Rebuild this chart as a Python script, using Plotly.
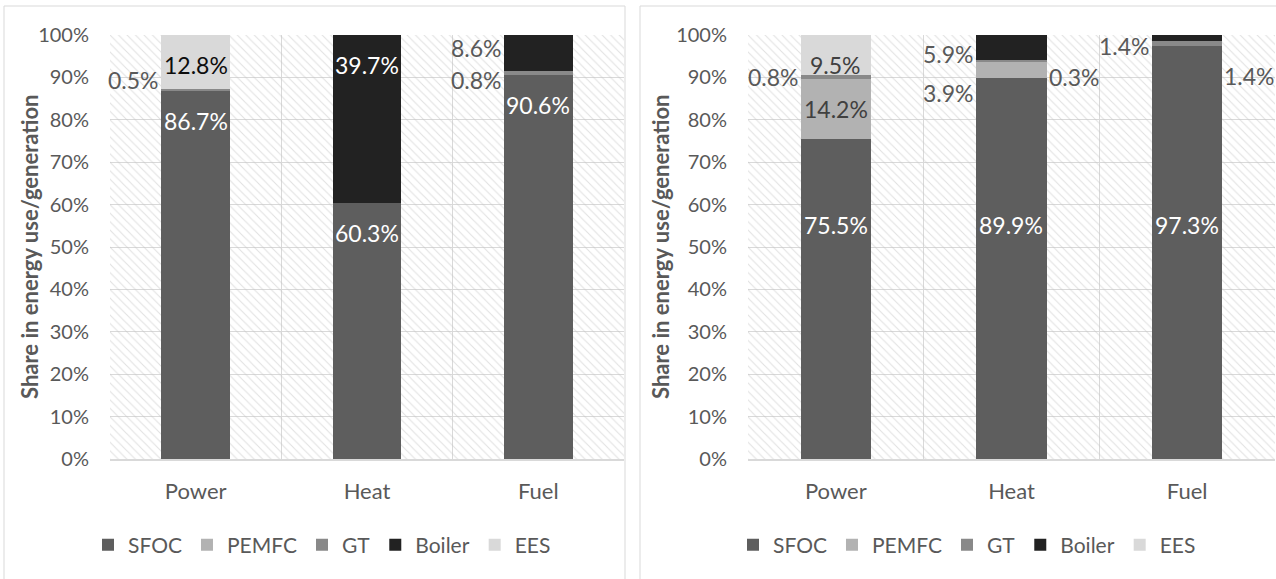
import plotly.graph_objects as go

# ---------------- data ----------------
categories = ["Power", "Heat", "Fuel"]
series = ["SFOC", "PEMFC", "GT", "Boiler", "EES"]

left_sfoc = [86.7, 60.3, 90.6]
left_pemfc = [0.0, 0.0, 0.0]
left_gt = [0.5, 0.0, 0.8]
left_boiler = [0.0, 39.7, 8.6]
left_ees = [12.8, 0.0, 0.0]

right_sfoc = [75.5, 89.9, 97.3]
right_pemfc = [14.2, 3.9, 0.0]
right_gt = [0.8, 0.3, 1.4]
right_boiler = [0.0, 5.9, 1.4]
right_ees = [9.5, 0.0, 0.0]

y_tick_vals = [0, 10, 20, 30, 40, 50, 60, 70, 80, 90, 100]
y_tick_text = ["0%", "10%", "20%", "30%", "40%", "50%", "60%", "70%", "80%", "90%", "100%"]
y_title = "Share in energy use/generation"

# ---------------- style ----------------
W, H = 1276, 579
FONT = "Lato"
GREY_TXT = "#595959"
GRID = "#d9d9d9"
series_colors = {"SFOC": "#5e5e5e", "PEMFC": "#b2b2b2", "GT": "#898989",
                 "Boiler": "#222222", "EES": "#d9d9d9"}
BAR_FRAC = 0.4

# label placement: (mode, color, yshift px)
left_label_style = {
    ("SFOC", "Power"): ("end", "#ffffff", 0),
    ("GT", "Power"): ("left", GREY_TXT, 10),
    ("EES", "Power"): ("end", "#0d0d0d", 0),
    ("SFOC", "Heat"): ("end", "#ffffff", 0),
    ("Boiler", "Heat"): ("end", "#ffffff", 0),
    ("SFOC", "Fuel"): ("end", "#ffffff", 0),
    ("GT", "Fuel"): ("left", GREY_TXT, -7),
    ("Boiler", "Fuel"): ("left", GREY_TXT, 5),
}
right_label_style = {
    ("SFOC", "Power"): ("level", "#ffffff", 0),
    ("PEMFC", "Power"): ("center", "#404040", 0),
    ("GT", "Power"): ("left", GREY_TXT, 0),
    ("EES", "Power"): ("end", "#404040", 0),
    ("SFOC", "Heat"): ("level", "#ffffff", 0),
    ("PEMFC", "Heat"): ("left", GREY_TXT, -23),
    ("GT", "Heat"): ("right", GREY_TXT, -16),
    ("Boiler", "Heat"): ("left", GREY_TXT, -6),
    ("SFOC", "Fuel"): ("level", "#ffffff", 0),
    ("GT", "Fuel"): ("right", GREY_TXT, -33),
    ("Boiler", "Fuel"): ("left", GREY_TXT, -8),
}
LEVEL_Y = 55.3
END_SHIFT = -30

# panel geometry in px
panels = [
    dict(name="left", data=[left_sfoc, left_pemfc, left_gt, left_boiler, left_ees],
         labels=left_label_style, plot_x=(110, 624), box=(4, 625), title_x=29,
         legend_x=322, axes=("x", "y", "x2", "y2"), legend="legend"),
    dict(name="right", data=[right_sfoc, right_pemfc, right_gt, right_boiler, right_ees],
         labels=right_label_style, plot_x=(748, 1275), box=(640, 1300), title_x=660,
         legend_x=967, axes=("x3", "y3", "x4", "y4"), legend="legend2"),
]
PLOT_Y = (35, 459)


def px(x):
    return x / W


def py(y):
    return 1 - y / H


fig = go.Figure()
annotations = []
shapes = []
layout = {}

for p in panels:
    bx, by, dx, dy = p["axes"]
    n = len(categories)
    # hatched background
    fig.add_trace(go.Bar(
        x=[n / 2], y=[max(y_tick_vals)], width=[n], xaxis=bx, yaxis=by,
        marker=dict(color="rgba(0,0,0,0)", line=dict(width=0),
                    pattern=dict(shape="\\", size=6, solidity=0.18,
                                 fgcolor="#c4c4c4", bgcolor="rgba(0,0,0,0)")),
        showlegend=False, hoverinfo="skip"))
    # stacked data bars
    for s, vals in zip(series, p["data"]):
        fig.add_trace(go.Bar(
            x=categories, y=vals, name=s, xaxis=dx, yaxis=dy,
            marker=dict(color=series_colors[s], line=dict(width=0)),
            legend=p["legend"], hoverinfo="skip"))
    # labels
    base = [0.0] * n
    for s, vals in zip(series, p["data"]):
        for i, c in enumerate(categories):
            v = vals[i]
            st = p["labels"].get((s, c))
            if st and v > 0:
                mode, col, sh = st
                top = min(base[i] + v, 100)
                mid = (base[i] + top) / 2
                a = dict(xref=dx, yref=dy, text=f"{v:.1f}%", showarrow=False,
                         font=dict(family=FONT, size=23, color=col))
                if mode == "end":
                    a.update(x=i, y=top, yshift=END_SHIFT, xanchor="center", yanchor="middle")
                elif mode == "center":
                    a.update(x=i, y=mid, xanchor="center", yanchor="middle")
                elif mode == "level":
                    a.update(x=i, y=LEVEL_Y, xanchor="center", yanchor="middle")
                elif mode == "left":
                    a.update(x=i - BAR_FRAC / 2, y=mid, xshift=0, yshift=sh,
                             xanchor="right", yanchor="middle")
                elif mode == "right":
                    a.update(x=i + BAR_FRAC / 2, y=mid, xshift=0, yshift=sh,
                             xanchor="left", yanchor="middle")
                annotations.append(a)
            base[i] += v

    dom_x = [px(p["plot_x"][0]), px(p["plot_x"][1])]
    dom_y = [py(PLOT_Y[1]), py(PLOT_Y[0])]
    bxk = "xaxis" + bx[1:]
    byk = "yaxis" + by[1:]
    dxk = "xaxis" + dx[1:]
    dyk = "yaxis" + dy[1:]
    layout[bxk] = dict(domain=dom_x, anchor=by, range=[0, n], tickmode="array",
                       tickvals=list(range(n + 1)), showgrid=True, gridcolor=GRID,
                       gridwidth=1, showticklabels=False, zeroline=False, ticks="",
                       showline=False, fixedrange=True, automargin=False)
    layout[byk] = dict(domain=dom_y, anchor=bx, range=[0, 100], tickmode="array",
                       tickvals=y_tick_vals, ticktext=y_tick_text, showgrid=True,
                       gridcolor=GRID, gridwidth=1, zeroline=False, ticks="",
                       tickfont=dict(family=FONT, size=20, color=GREY_TXT),
                       ticklabelstandoff=20, fixedrange=True, automargin=False)
    layout[dxk] = dict(overlaying=bx, anchor=dy, range=[-0.5, n - 0.5], type="category",
                       categoryorder="array", categoryarray=categories, showgrid=False,
                       zeroline=False, ticks="", showline=True, linecolor=GRID, linewidth=2,
                       tickfont=dict(family=FONT, size=22, color=GREY_TXT),
                       ticklabelstandoff=12, fixedrange=True, automargin=False)
    layout[dyk] = dict(overlaying=by, anchor=dx, range=[0, 100], showgrid=False,
                       showticklabels=False, zeroline=False, ticks="", fixedrange=True,
                       automargin=False)
    layout[p["legend"]] = dict(orientation="h", x=px(p["legend_x"]), xanchor="center",
                               y=py(545), yanchor="middle", traceorder="normal",
                               font=dict(family=FONT, size=21, color=GREY_TXT),
                               bgcolor="rgba(0,0,0,0)", itemclick=False,
                               itemdoubleclick=False)
    # axis title
    annotations.append(dict(xref="paper", yref="paper", x=px(p["title_x"]),
                            y=py(sum(PLOT_Y) / 2), text=f"<b>{y_title}</b>",
                            textangle=-90, showarrow=False, xanchor="center",
                            yanchor="middle",
                            font=dict(family=FONT, size=22, color=GREY_TXT)))
    # panel border
    shapes.append(dict(type="rect", xref="paper", yref="paper",
                       x0=px(p["box"][0]), x1=px(p["box"][1]),
                       y0=-0.1, y1=py(6), line=dict(color=GRID, width=1),
                       fillcolor="rgba(0,0,0,0)", layer="below"))

fig.update_layout(
    width=W, height=H, autosize=False,
    margin=dict(l=0, r=0, t=0, b=0, pad=0),
    paper_bgcolor="white", plot_bgcolor="white",
    barmode="stack", bargap=1 - BAR_FRAC,
    annotations=annotations, shapes=shapes,
    font=dict(family=FONT, color=GREY_TXT),
    **layout,
)

fig.write_html("out.html", config={"displayModeBar": False},
               post_script="document.body.style.margin='0';")
